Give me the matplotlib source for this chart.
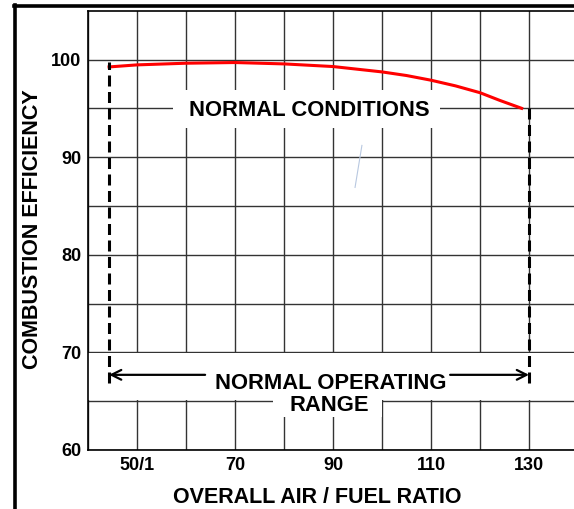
import matplotlib
matplotlib.use("Agg")
import matplotlib.pyplot as plt
from matplotlib.lines import Line2D
from matplotlib.patches import Rectangle

plt.rcParams['font.family'] = ['Liberation Sans', 'DejaVu Sans']
plt.rcParams['font.weight'] = 'bold'

# efficiency curve read along the air/fuel ratio axis
ratio = [44.3, 50, 60, 70, 80, 90, 100, 105, 110, 115, 120, 124.1, 128.5]
efficiency = [99.24, 99.45, 99.62, 99.69, 99.55, 99.28, 98.73, 98.36, 97.88,
              97.3, 96.6, 95.8, 95.0]

# limits of the normal operating range
range_lo = 44.3
range_hi = 130

x_ticks = [50, 70, 90, 110, 130]
x_tick_labels = ['50/1', '70', '90', '110', '130']
y_ticks = [60, 70, 80, 90, 100]

W, H = 574, 509
fig = plt.figure(figsize=(W / 100, H / 100), dpi=100)
ax = fig.add_axes([88 / W, 59 / H, 1 - 88 / W, (450 - 10.7) / H])
ax_w, ax_h = W - 88, 450 - 10.7

ax.set_xlim(40, 40 + 486 / 4.9)
ax.set_ylim(60, 105)

ax.set_xticks(x_ticks)
ax.set_xticklabels(x_tick_labels)
ax.set_xticks(range(40, 140, 10), minor=True)
ax.set_yticks(y_ticks)
ax.set_yticks(range(60, 105, 5), minor=True)
ax.tick_params(which='both', length=0, labelsize=13)
ax.tick_params(axis='x', pad=5)
ax.tick_params(axis='y', pad=5)
for lab in ax.get_xticklabels() + ax.get_yticklabels():
    lab.set_fontweight('bold')

ax.set_axisbelow(True)
ax.grid(which='both', color='#333333', lw=1.0)
for side in ['left', 'bottom', 'top']:
    ax.spines[side].set_linewidth(1.2)
ax.spines['right'].set_visible(False)

# white cut-outs behind the labels
ax.add_patch(Rectangle((57.3, 92.95), 54.5, 3.9, facecolor='white',
                       edgecolor='none', zorder=1))
ax.axhspan(65.1, 69.9, facecolor='white', edgecolor='none', zorder=1)
ax.add_patch(Rectangle((77.8, 63.35), 22.2, 1.75, facecolor='white',
                       edgecolor='none', zorder=1))

ax.plot(ratio, efficiency, color='#ff0000', lw=2.2, zorder=3,
        solid_joinstyle='round')

# range boundaries
ax.plot([range_lo, range_lo], [66.9, 99.7], color='black', lw=2.2,
        dashes=(3.6, 1.8), zorder=3)
ax.plot([range_hi, range_hi], [66.9, 95.2], color='black', lw=2.2,
        dashes=(3.6, 1.8), zorder=3)

arrow = dict(arrowstyle='->,head_length=0.7,head_width=0.35', lw=1.6,
             color='black', shrinkA=0, shrinkB=0)
ax.annotate('', xy=(range_lo, 67.7), xytext=(63.9, 67.7), arrowprops=arrow, zorder=4)
ax.annotate('', xy=(range_hi, 67.7), xytext=(113.9, 67.7), arrowprops=arrow, zorder=4)

ax.text(85.1, 94.8, 'NORMAL CONDITIONS', ha='center', va='center',
        fontsize=15.8, fontweight='bold', zorder=4)
ax.text(89.5, 66.8, 'NORMAL OPERATING', ha='center', va='center',
        fontsize=15.8, fontweight='bold', zorder=4)
ax.text(89.2, 64.55, 'RANGE', ha='center', va='center',
        fontsize=15.8, fontweight='bold', zorder=4)

# stray pen stroke
ax.plot([95.9, 94.5], [91.2, 86.9], color='#b8c8e0', lw=0.8, zorder=2)

ax.set_xlabel('OVERALL AIR / FUEL RATIO', fontsize=15.5, fontweight='bold')
ax.xaxis.set_label_coords((317 - 88) / ax_w, -(487 - 450) / ax_h)
ax.set_ylabel('COMBUSTION EFFICIENCY', fontsize=15.5, fontweight='bold')
ax.yaxis.set_label_coords(-(88 - 43) / ax_w, (450 - 229) / ax_h)

# page frame
fig.add_artist(Line2D([15 / W, 15 / W], [0, 1 - 5 / H], transform=fig.transFigure,
                      color='black', lw=2.6))
fig.add_artist(Line2D([14 / W, 1], [1 - 6 / H, 1 - 6 / H], transform=fig.transFigure,
                      color='black', lw=2.6))

fig.savefig('out.png', dpi=100)
